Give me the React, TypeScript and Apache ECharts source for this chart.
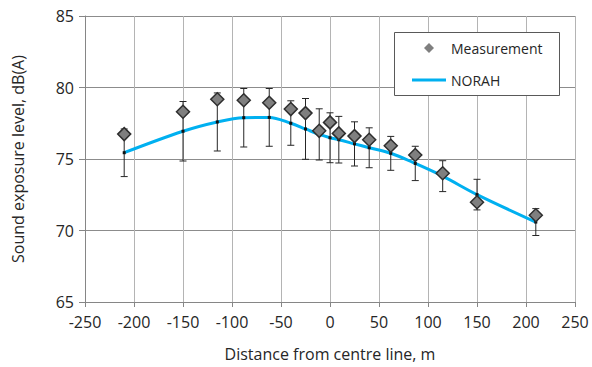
import React, { useEffect, useRef } from "react";
import * as echarts from "echarts";

const distance = [-210, -150, -115, -88, -62, -40, -25, -11, 0, 9, 25, 40, 62, 87, 115, 150, 210];
const measured = [76.74, 78.3, 79.18, 79.11, 78.93, 78.49, 78.21, 76.97, 77.56, 76.79, 76.6, 76.35, 75.93, 75.28, 74.0, 71.98, 71.07];
const norah = [75.44, 76.94, 77.59, 77.89, 77.91, 77.5, 77.1, 76.72, 76.49, 76.35, 76.06, 75.79, 75.4, 74.69, 73.8, 72.51, 70.59];
const errLow = [73.77, 74.86, 75.56, 75.84, 75.89, 75.96, 74.98, 74.93, 74.74, 74.72, 74.51, 74.39, 74.21, 73.49, 72.72, 71.44, 69.65];
const errHigh = [77.1, 79.02, 79.62, 79.93, 79.93, 79.07, 79.23, 78.51, 78.23, 77.98, 77.6, 77.18, 76.58, 75.89, 74.88, 73.58, 71.53];

const FONT = "'Open Sans', 'Noto Sans', sans-serif";
const TEXT = "#262626";

export default function App() {
  const ref = useRef<HTMLDivElement>(null);
  useEffect(() => {
    if (!ref.current) return;
    const chart = echarts.init(ref.current, undefined, { renderer: "svg" });
    const renderItem = (params: any, api: any) => {
      const x = api.value(0);
      const lo = api.coord([x, api.value(1)]);
      const hi = api.coord([x, api.value(2)]);
      const c = api.coord([x, api.value(3)]);
      const cap = 3.5;
      const st = { stroke: "#262626", lineWidth: 1 };
      return {
        type: "group",
        children: [
          { type: "line", shape: { x1: lo[0], y1: lo[1], x2: hi[0], y2: hi[1] }, style: st },
          { type: "line", shape: { x1: lo[0] - cap, y1: lo[1], x2: lo[0] + cap, y2: lo[1] }, style: st },
          { type: "line", shape: { x1: hi[0] - cap, y1: hi[1], x2: hi[0] + cap, y2: hi[1] }, style: st },
          { type: "rect", shape: { x: c[0] - 1.5, y: c[1] - 1.5, width: 3, height: 3 }, style: { fill: "#111" } },
        ],
      };
    };
    const option: any = {
      animation: false,
      grid: { left: 85, right: 17, top: 16, bottom: 65 },
      xAxis: {
        type: "value",
        min: -250,
        max: 250,
        interval: 50,
        name: "Distance from centre line, m",
        nameLocation: "middle",
        nameGap: 44,
        nameTextStyle: { fontSize: 16, color: TEXT, fontFamily: FONT },
        axisLine: { show: true, onZero: false, lineStyle: { color: "#868686" } },
        axisTick: { show: true, length: 5, lineStyle: { color: "#868686" } },
        axisLabel: { fontSize: 16, color: TEXT, margin: 12, fontFamily: FONT },
        splitLine: { show: true, lineStyle: { color: "#B4B4B4", width: 1 } },
      },
      yAxis: {
        type: "value",
        min: 65,
        max: 85,
        interval: 5,
        name: "Sound exposure level, dB(A)",
        nameLocation: "middle",
        nameRotate: 90,
        nameGap: 59,
        nameTextStyle: { fontSize: 16, color: TEXT, fontFamily: FONT },
        axisLine: { show: true, onZero: false, lineStyle: { color: "#868686" } },
        axisTick: { show: true, length: 6, lineStyle: { color: "#868686" } },
        axisLabel: { fontSize: 16, color: TEXT, margin: 11, fontFamily: FONT },
        splitLine: { show: true, lineStyle: { color: "#8C8C8C", width: 1 } },
      },
      legend: {
        data: [
          {
            name: "Measurement",
            icon: "path://M0,0 M34,11 M17,0.5 L22,5.5 L17,10.5 L12,5.5 Z",
            itemStyle: { color: "#7F7F7F", borderWidth: 0 },
          },
          {
            name: "NORAH",
            icon: "path://M0,0 M34,11 M0,4 L34,4 L34,7 L0,7 Z",
            itemStyle: { color: "#00B0F0", borderWidth: 0 },
          },
        ],
        orient: "vertical",
        left: 412,
        top: 40,
        padding: 0,
        itemWidth: 34,
        itemHeight: 11,
        itemGap: 16,
        symbolKeepAspect: true,
        selectedMode: false,
        z: 5,
        textStyle: { fontSize: 14, color: TEXT, lineHeight: 16, fontFamily: FONT },
      },
      graphic: [
        {
          type: "rect",
          left: 394,
          top: 32,
          z: 3,
          shape: { width: 165, height: 63 },
          style: { fill: "#fff", stroke: "#595959", lineWidth: 1 },
        },
      ],
      series: [
        {
          type: "line",
          name: "NORAH",
          data: distance.map((d, i) => [d, norah[i]]),
          smooth: 0.35,
          symbol: "none",
          lineStyle: { color: "#00B0F0", width: 3 },
          itemStyle: { color: "#00B0F0" },
          z: 2,
        },
        {
          type: "custom",
          name: "error",
          renderItem,
          data: distance.map((d, i) => [d, errLow[i], errHigh[i], norah[i]]),
          encode: { x: 0, y: [1, 2] },
          z: 3,
        },
        {
          type: "scatter",
          name: "Measurement",
          data: distance.map((d, i) => [d, measured[i]]),
          symbol: "diamond",
          symbolSize: 13,
          itemStyle: { color: "#7F7F7F", borderColor: "#2E2E2E", borderWidth: 1.5, opacity: 1 },
          z: 4,
        },
      ],
    };
    chart.setOption(option);
    return () => chart.dispose();
  }, []);
  return (
    <div
      ref={ref}
      style={{ position: "absolute", left: 0, top: 0, width: 592, height: 367, background: "#fff" }}
    />
  );
}
